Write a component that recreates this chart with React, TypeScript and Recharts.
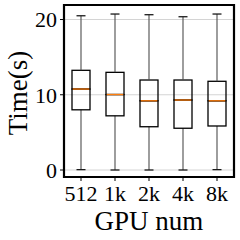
import React from 'react';
import { ComposedChart, Bar, XAxis, YAxis, CartesianGrid, ReferenceArea, Label } from 'recharts';

const categories = ['512', '1k', '2k', '4k', '8k'];
const mins = [0.05, 0.0, 0.0, 0.0, 0.05];
const q1s = [8.0, 7.2, 5.75, 5.55, 5.85];
const medians = [10.76, 10.03, 9.2, 9.3, 9.2];
const q3s = [13.25, 12.98, 11.96, 11.96, 11.79];
const maxs = [20.5, 20.73, 20.64, 20.37, 20.73];
const yTicks = [0, 10, 20];

const data = categories.map((name, i) => ({
  name,
  base: mins[i],
  whiskerLow: q1s[i] - mins[i],
  boxLow: medians[i] - q1s[i],
  boxHigh: q3s[i] - medians[i],
  whiskerHigh: maxs[i] - q3s[i],
}));

const FONT = '"Liberation Serif", "Times New Roman", serif';
const TEXT_STYLE = { fontFamily: FONT };
const WHISKER = '#4d4d4d';
const CAP = '#1a1a1a';
const BOX = '#000000';
const MEDIAN = '#ff7f0e';

const Empty = () => null;

const WhiskerLow = (props: any) => {
  const { x, y, width, height } = props;
  const cx = x + width / 2;
  return (
    <g>
      <line x1={cx} x2={cx} y1={y} y2={y + height} stroke={WHISKER} strokeWidth={1.1} />
      <line x1={cx - 4.5} x2={cx + 4.5} y1={y + height} y2={y + height} stroke={CAP} strokeWidth={1.3} />
    </g>
  );
};

const WhiskerHigh = (props: any) => {
  const { x, y, width, height } = props;
  const cx = x + width / 2;
  return (
    <g>
      <line x1={cx} x2={cx} y1={y} y2={y + height} stroke={WHISKER} strokeWidth={1.1} />
      <line x1={cx - 4.5} x2={cx + 4.5} y1={y} y2={y} stroke={CAP} strokeWidth={1.3} />
    </g>
  );
};

const BoxLow = (props: any) => {
  const { x, y, width, height } = props;
  return <rect x={x} y={y} width={width} height={height} fill="none" stroke={BOX} strokeWidth={1.3} />;
};

const BoxHigh = (props: any) => {
  const { x, y, width, height } = props;
  return (
    <g>
      <rect x={x} y={y} width={width} height={height} fill="none" stroke={BOX} strokeWidth={1.3} />
      <line x1={x + 0.7} x2={x + width - 0.7} y1={y + height} y2={y + height} stroke={MEDIAN} strokeWidth={1.3} />
    </g>
  );
};

const XTick = (props: any) => {
  const { x, y, payload } = props;
  return (
    <text x={x} y={y} dy="0.71em" textAnchor="middle" fontFamily={FONT} style={TEXT_STYLE} fontSize={22} fill="#000">
      {payload.value}
    </text>
  );
};

const YTick = (props: any) => {
  const { x, y, payload } = props;
  return (
    <text x={x} y={y} dy="0.355em" textAnchor="end" fontFamily={FONT} style={TEXT_STYLE} fontSize={22} fill="#000">
      {payload.value}
    </text>
  );
};

const XLabel = (props: any) => {
  const vb = props.viewBox || { x: 64, y: 177, width: 170, height: 63 };
  return (
    <text x={vb.x + vb.width / 2} y={vb.y + 53} textAnchor="middle" fontFamily={FONT} style={TEXT_STYLE} fontSize={27} fill="#000">
      GPU num
    </text>
  );
};

const YLabel = (props: any) => {
  const vb = props.viewBox || { x: 0, y: 5, width: 64, height: 172 };
  const cx = vb.x + 27;
  const cy = vb.y + vb.height / 2 + 2;
  return (
    <text x={cx} y={cy} transform={`rotate(-90, ${cx}, ${cy})`} textAnchor="middle" fontFamily={FONT} style={TEXT_STYLE} fontSize={27} fill="#000">
      Time(s)
    </text>
  );
};

export default function App() {
  return (
    <div style={{ position: 'absolute', left: 0, top: 0, background: '#fff', fontFamily: FONT }}>
      <ComposedChart width={240} height={240} data={data} margin={{ top: 5, right: 6, bottom: 0, left: 0 }}>
        <CartesianGrid vertical={false} stroke="#d4d4d4" strokeWidth={1} />
        <XAxis
          dataKey="name"
          height={63}
          axisLine={false}
          tickLine={{ stroke: '#000' }}
          tickSize={4}
          tickMargin={4}
          interval={0}
          tick={XTick}
        >
          <Label content={XLabel} />
        </XAxis>
        <YAxis
          width={64}
          domain={[-0.93, 21.93]}
          ticks={yTicks}
          type="number"
          axisLine={false}
          tickLine={{ stroke: '#000' }}
          tickSize={4}
          tickMargin={3}
          tick={YTick}
        >
          <Label content={YLabel} />
        </YAxis>
        <Bar dataKey="base" stackId="a" barSize={18} shape={Empty} isAnimationActive={false} />
        <Bar dataKey="whiskerLow" stackId="a" barSize={18} shape={WhiskerLow} isAnimationActive={false} />
        <Bar dataKey="boxLow" stackId="a" barSize={18} shape={BoxLow} isAnimationActive={false} />
        <Bar dataKey="boxHigh" stackId="a" barSize={18} shape={BoxHigh} isAnimationActive={false} />
        <Bar dataKey="whiskerHigh" stackId="a" barSize={18} shape={WhiskerHigh} isAnimationActive={false} />
        <ReferenceArea y1={-0.93} y2={21.93} fill="none" stroke="#000" strokeWidth={2.2} ifOverflow="visible" />
      </ComposedChart>
    </div>
  );
}
